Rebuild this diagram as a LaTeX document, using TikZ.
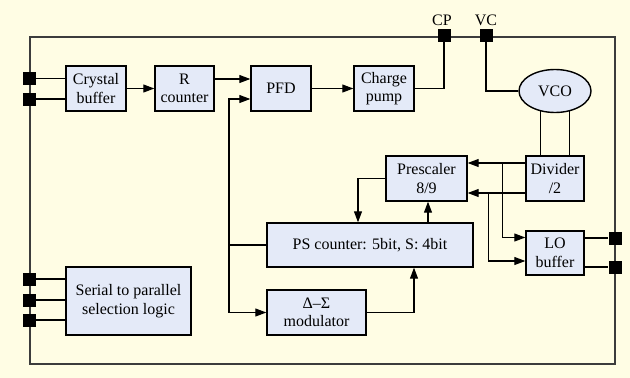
\documentclass[tikz,border=0pt]{standalone}
\usepackage{fontspec}
\setmainfont{Liberation Serif}
\usetikzlibrary{arrows.meta,shapes.geometric}
\definecolor{bgcream}{RGB}{255,253,228}
\definecolor{blockfill}{RGB}{228,234,248}
\definecolor{framegray}{RGB}{60,60,60}
\begin{document}
\begin{tikzpicture}[x=1pt,y=-1pt,>={Triangle[length=11pt,width=8pt]},
  every node/.style={font=\fontsize{16}{18.5}\selectfont},
  block/.style={draw=black,fill=blockfill,line width=1.4pt,align=center,inner sep=0pt},
  pad/.style={fill=black,minimum size=13pt,inner sep=0pt},
  wire/.style={line width=1.1pt}]
\fill[bgcream] (0,0) rectangle (630,378);
\useasboundingbox (0,0) rectangle (630,378);
\draw[line width=1.5pt,draw=framegray] (30,37) rectangle (615,364);

% blocks
\node[block,minimum width=60pt,minimum height=45pt] (xtal) at (96,88.5) {Crystal\\buffer};
\node[block,minimum width=59pt,minimum height=45pt] (rcnt) at (184.5,88.5) {R\\counter};
\node[block,minimum width=60pt,minimum height=45pt] (pfd) at (281,88.5) {PFD};
\node[block,minimum width=60pt,minimum height=45pt] (chgpump) at (384,88.5) {Charge\\pump};
\node[block,ellipse,minimum width=72pt,minimum height=43pt] (vco) at (555,91) {VCO};
\node[block,minimum width=81pt,minimum height=45pt] (presc) at (426.5,178.5) {Prescaler\\8/9};
\node[block,minimum width=58pt,minimum height=45pt] (divider) at (555,178.5) {Divider\\/2};
\node[block,minimum width=206pt,minimum height=44pt] (psc) at (370,245) {PS counter: 5bit, S: 4bit};
\node[block,minimum width=58pt,minimum height=44pt] (lobuf) at (555,253) {LO\\buffer};
\node[block,minimum width=99pt,minimum height=45pt] (dsm) at (316.5,312.5) {Δ–Σ\\modulator};
\node[block,minimum width=125pt,minimum height=68pt] (serial) at (128.5,301) {Serial to parallel\\selection logic};

% pins
\node[pad] (pin1) at (29,78.5) {};
\node[pad] (pin2) at (29,99) {};
\node[pad] (pser1) at (29,279) {};
\node[pad] (pser2) at (29,300) {};
\node[pad] (pser3) at (29,320) {};
\node[pad] (pcp) at (444,35) {};
\node[pad] (pvc) at (486,35) {};
\node[pad] (plo1) at (615,238) {};
\node[pad] (plo2) at (615,267) {};
\node (lblcp) at (442,20) {CP};
\node (lblvc) at (486,20) {VC};

% wires
\draw[wire] (pin1) -- (pin1 -| xtal.west);
\draw[wire] (pin2) -- (pin2 -| xtal.west);
\draw[wire,->] (xtal) -- (rcnt);
\draw[wire,->] ([yshift=9.5pt]rcnt.east) -- ([yshift=9.5pt]pfd.west);
\draw[wire,->] (pfd) -- (chgpump);
\draw[wire] (chgpump.east) -| (pcp);
\draw[wire] (pvc) |- (vco.west);
\draw[wire] (vco.235) -- (vco.235 |- divider.north);
\draw[wire] (vco.305) -- (vco.305 |- divider.north);
\draw[wire,->] ([yshift=15.5pt]divider.west) -- coordinate[pos=0.39] (tapa) ([yshift=15.5pt]presc.east);
\draw[wire,->] ([yshift=-14.5pt]divider.west) -- coordinate[pos=0.644] (tapb) ([yshift=-14.5pt]presc.east);
\draw[wire,->] (tapa) |- ([yshift=15.5pt]lobuf.west);
\draw[wire,->] (tapb) |- ([yshift=-8pt]lobuf.west);
\draw[wire] ([yshift=15pt]lobuf.east) -- (plo1);
\draw[wire] ([yshift=-14pt]lobuf.east) -- (plo2);
\draw[wire,->] (presc.west) -| ([xshift=-12pt]psc.north);
\draw[wire,->] ([xshift=58pt]psc.north) -- ([xshift=58pt]psc.north |- presc.south);
\draw[wire,->] (dsm.east) -| ([xshift=44pt]psc.south);
\coordinate (fbx) at (229,245);
\draw[wire] (psc.west) -- (fbx);
\draw[wire,->] (fbx) |- ([yshift=-10.5pt]pfd.west);
\draw[wire,->] (fbx) |- (dsm.west);
\draw[wire] (pser1) -- (pser1 -| serial.west);
\draw[wire] (pser2) -- (pser2 -| serial.west);
\draw[wire] (pser3) -- (pser3 -| serial.west);
\end{tikzpicture}
\end{document}
